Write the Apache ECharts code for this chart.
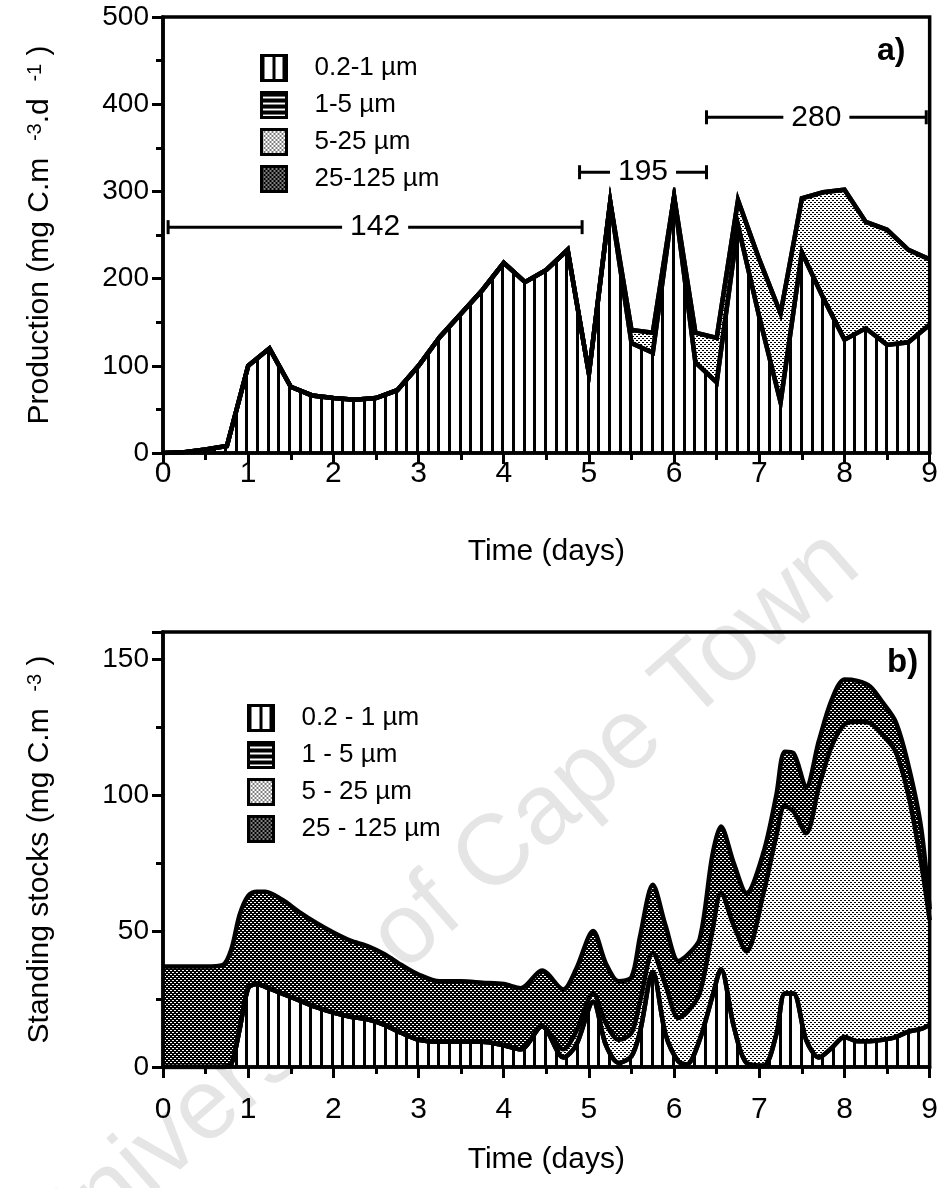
<!DOCTYPE html>
<html>
<head>
<meta charset="utf-8">
<title>Production and standing stocks by size class</title>
<script src="https://cdn.jsdelivr.net/npm/echarts@6.0.0/dist/echarts.min.js"></script>
<style>
  html, body { margin: 0; padding: 0; background: #fff; }
  #chart { width: 941px; height: 1188px; }
</style>
</head>
<body>
<div id="chart"></div>
<script>
const FONT = '"Liberation Sans", Arial, Helvetica, sans-serif';

// ---- a) production (mg C m-3 d-1), one value every 6 h ----
const daysA = [0, 0.25, 0.5, 0.75, 1, 1.25, 1.5, 1.75, 2, 2.25, 2.5, 2.75, 3, 3.25, 3.5, 3.75,
  4, 4.25, 4.5, 4.75, 5, 5.25, 5.5, 5.75, 6, 6.25, 6.5, 6.75, 7, 7.25, 7.5, 7.75, 8, 8.25, 8.5, 8.75, 9];
const picoA = [0, 1, 4, 8, 100, 120, 76, 66, 63, 61, 63, 72, 100, 133, 160, 187,
  218, 196, 210, 233, 91, 288, 126, 115, 294, 104, 81, 261, 156, 58, 230, 178, 130, 143, 124, 127, 147];
const nanoA = [0, 0, 0, 0, 0, 0, 0, 0, 0, 0, 0, 0, 0, 0, 0, 0,
  0, 0, 0, 0, 0, 0, 0, 0, 0, 0, 0, 0, 0, 0, 0, 0, 0, 0, 0, 0, 0];
const microA = [0, 0, 0, 0, 0, 0, 0, 0, 0, 0, 0, 0, 0, 0, 0, 0,
  0, 0, 0, 0, 0, 0, 15, 23, 0, 34, 51, 29, 66, 102, 62, 121, 172, 122, 132, 106, 75];
const netA = [0, 0, 0, 0, 0, 0, 0, 0, 0, 0, 0, 0, 0, 0, 0, 0,
  0, 0, 0, 0, 0, 0, 0, 0, 0, 0, 0, 0, 0, 0, 0, 0, 0, 0, 0, 0, 0];
const namesA = ['0.2-1 µm', '1-5 µm', '5-25 µm', '25-125 µm'];

// mean production over the three periods (bars drawn over panel a)
const rangeStart = [0.06, 4.89, 6.38];
const rangeEnd = [4.92, 6.38, 8.96];
const rangeLevel = [259, 322, 385];
const rangeLabel = ['142', '195', '280'];

// ---- b) standing stocks (mg C m-3) ----
const daysB = [0, 0.5, 0.7, 0.8, 0.9, 1, 1.1, 1.2, 1.4, 1.6, 1.8, 2, 2.2, 2.4, 2.6, 2.8,
  3, 3.25, 3.5, 3.75, 4, 4.2, 4.45, 4.7, 4.85, 5.05, 5.2, 5.35, 5.5, 5.6, 5.75, 5.9,
  6.05, 6.15, 6.3, 6.45, 6.55, 6.7, 6.85, 7.05, 7.2, 7.3, 7.4, 7.55, 7.7, 7.85,
  8, 8.15, 8.3, 8.45, 8.6, 8.75, 8.9, 9];
const picoB = [0, 0, 0, 1, 14, 29, 30.5, 29.5, 27, 24.5, 22, 20, 18.5, 17.5, 15.5, 12.5,
  10, 9.3, 9.3, 9.3, 8, 6.5, 15, 3.5, 8, 24, 8, 1.5, 4, 13, 35, 12,
  2, 1, 10, 26, 36, 15, 1.5, 0.5, 12, 27, 27, 10, 3.5, 7,
  11, 9.5, 9.5, 10, 11, 13, 14, 15.5];
const nanoB = [0, 0, 0, 0, 0, 0, 0, 0, 0, 0, 0, 0, 0, 0, 0, 0,
  0, 0, 0, 0, 0, 0, 0, 0, 0, 0, 0, 0, 0, 0, 0, 0,
  0, 0, 0, 0, 0, 0, 0, 0, 0, 0, 0, 0, 0, 0,
  0, 0, 0, 0, 0, 0, 0, 0];
const microB = [0, 0, 0, 0, 0, 0, 0, 0, 0, 0, 0, 0, 0, 0, 0, 0,
  0, 0, 0, 0, 0, 0, 0, 3, 5, 3, 8, 8.5, 8.5, 11, 7, 18,
  16, 19, 17, 24, 28, 37, 41, 63.5, 73, 69, 67, 76, 99.5, 111,
  115, 117.5, 117, 112, 105, 87, 61, 38.5];
const netB = [37, 37, 37.5, 42, 42, 34, 34, 35, 34.5, 32.5, 31, 29.5, 28, 27, 26, 25,
  24, 22.2, 22.2, 21.7, 22.5, 22.5, 20.5, 22, 23, 23, 22, 21.5, 20.5, 24, 25, 22,
  21, 21, 20, 28, 24.5, 23, 21.5, 15, 15, 20, 21.5, 17, 17, 17,
  16.5, 15, 13.5, 12, 11, 11, 13, 4];
const namesB = ['0.2 - 1 µm', '1 - 5 µm', '5 - 25 µm', '25 - 125 µm'];

// ---- fill patterns (scanned-print look) ----
function makePattern(w, h, draw) {
  const c = document.createElement('canvas');
  c.width = w;
  c.height = h;
  draw(c.getContext('2d'));
  return { image: c, repeat: 'repeat' };
}
const vertHatch = makePattern(32, 4, (ctx) => {
  ctx.fillStyle = '#fff'; ctx.fillRect(0, 0, 32, 4);
  ctx.fillStyle = '#000';
  [0, 11, 21].forEach((x) => ctx.fillRect(x, 0, 3, 4));
});
const horizHatch = makePattern(4, 6, (ctx) => {
  ctx.fillStyle = '#000'; ctx.fillRect(0, 0, 4, 6);
  ctx.fillStyle = '#fff'; ctx.fillRect(0, 4, 4, 2);
});
const lightDots = makePattern(4, 4, (ctx) => {
  ctx.fillStyle = '#fff'; ctx.fillRect(0, 0, 4, 4);
  ctx.fillStyle = '#000'; ctx.fillRect(0, 0, 2, 1); ctx.fillRect(2, 2, 2, 1);
});
const darkDots = makePattern(4, 4, (ctx) => {
  ctx.fillStyle = '#000'; ctx.fillRect(0, 0, 4, 4);
  ctx.fillStyle = '#fff'; ctx.fillRect(0, 0, 2, 1); ctx.fillRect(2, 2, 2, 1);
});
const fills = [vertHatch, horizHatch, lightDots, darkDots];

// the areas are drawn as cumulative totals, biggest first, so each smaller class covers the one above
const sumArrays = (...arrs) => arrs[0].map((_, i) => arrs.reduce((s, a) => s + a[i], 0));

function layerSeries(names, axisIndex, days, parts, smooth) {
  const tops = [
    sumArrays(parts[0], parts[1], parts[2], parts[3]),
    sumArrays(parts[0], parts[1], parts[2]),
    sumArrays(parts[0], parts[1]),
    parts[0]
  ];
  return [3, 2, 1, 0].map((k, j) => ({
    name: names[k],
    type: 'line',
    xAxisIndex: axisIndex,
    yAxisIndex: axisIndex,
    data: days.map((d, i) => [d, tops[j][i]]),
    symbol: 'none',
    smooth: smooth,
    silent: true,
    lineStyle: { color: '#000', width: 4.5, join: 'miter' },
    areaStyle: { color: fills[k], opacity: 1 },
    z: 2
  }));
}

function xAxisFor(gridIndex, labelMargin, nameGap) {
  return {
    type: 'value', gridIndex: gridIndex, min: 0, max: 9, interval: 1, z: 11,
    name: 'Time (days)', nameLocation: 'middle', nameGap: nameGap,
    nameTextStyle: { fontSize: 30, fontFamily: FONT, color: '#000' },
    axisLine: { onZero: false, lineStyle: { color: '#000', width: 3.5 } },
    axisTick: { length: 11, lineStyle: { color: '#000', width: 3 } },
    minorTick: { show: true, splitNumber: 2, length: 7, lineStyle: { color: '#000', width: 3 } },
    axisLabel: { fontSize: 30, fontFamily: FONT, color: '#000', margin: labelMargin },
    splitLine: { show: false }
  };
}

function yAxisFor(gridIndex, max, interval, name) {
  return {
    type: 'value', gridIndex: gridIndex, min: 0, max: max, interval: interval, z: 11,
    name: name, nameLocation: 'middle', nameGap: 108,
    nameTextStyle: {
      rich: {
        n: { fontSize: 30, fontFamily: FONT, color: '#000', lineHeight: 30 },
        s: { fontSize: 20, fontFamily: FONT, color: '#000', lineHeight: 20, verticalAlign: 'top' }
      }
    },
    axisLine: { lineStyle: { color: '#000', width: 3.5 } },
    axisTick: { length: 11, lineStyle: { color: '#000', width: 3 } },
    minorTick: { show: true, splitNumber: 2, length: 7, lineStyle: { color: '#000', width: 3 } },
    axisLabel: {
      fontSize: 28, fontFamily: FONT, color: '#000', margin: 14,
      formatter: (v) => (v % interval === 0 ? String(v) : '')
    },
    splitLine: { show: false }
  };
}

function legendFor(names, left, top) {
  return {
    orient: 'vertical', left: left, top: top, padding: 0,
    itemWidth: 25, itemHeight: 25, itemGap: 9, selectedMode: false,
    data: names.map((n, i) => ({
      name: n, icon: 'rect',
      itemStyle: { color: fills[i], borderColor: '#000', borderWidth: 3 }
    })),
    textStyle: { fontSize: 26, fontFamily: FONT, color: '#000', padding: [0, 0, 0, 23] }
  };
}

const chart = echarts.init(document.getElementById('chart'));

const option = {
  animation: false,
  backgroundColor: '#fff',
  textStyle: { fontFamily: FONT, color: '#000' },
  title: [
    { text: 'a)', left: 877, top: 35, padding: 0, textStyle: { fontSize: 32, fontWeight: 'bold', fontFamily: FONT, color: '#000' } },
    { text: 'b)', left: 887, top: 646, padding: 0, textStyle: { fontSize: 33, fontWeight: 'bold', fontFamily: FONT, color: '#000' } }
  ],
  grid: [
    { left: 163, top: 17, width: 768, height: 436, show: true, z: 10, backgroundColor: 'transparent', borderColor: '#000', borderWidth: 3.5 },
    { left: 163, top: 632, width: 768, height: 435, show: true, z: 10, backgroundColor: 'transparent', borderColor: '#000', borderWidth: 3.5 }
  ],
  xAxis: [xAxisFor(0, 6, 84), xAxisFor(1, 28, 78)],
  yAxis: [
    yAxisFor(0, 500, 100, '{n|Production (mg C.m  }{s|-3}{n|.d  }{s|-1}{n| )}'),
    yAxisFor(1, 160, 50, '{n|Standing stocks (mg C.m  }{s|-3}{n| )}')
  ],
  legend: [legendFor(namesA, 260, 54), legendFor(namesB, 247, 704)],
  graphic: [
    {
      // scan watermark behind panel b
      type: 'text', x: 440, y: 905, rotation: 0.72, z: -10, silent: true,
      style: {
        text: 'University of Cape Town', font: '100px ' + FONT,
        fill: 'rgba(0,0,0,0.1)', align: 'center', verticalAlign: 'middle'
      }
    }
  ],
  series: [
    ...layerSeries(namesA, 0, daysA, [picoA, nanoA, microA, netA], false),
    ...layerSeries(namesB, 1, daysB, [picoB, nanoB, microB, netB], 0.3),
    {
      type: 'custom',
      xAxisIndex: 0,
      yAxisIndex: 0,
      z: 5,
      silent: true,
      data: rangeStart.map((s, i) => [s, rangeEnd[i], rangeLevel[i]]),
      encode: { x: [0, 1], y: 2 },
      renderItem: (params, api) => {
        const a = api.coord([api.value(0), api.value(2)]);
        const b = api.coord([api.value(1), api.value(2)]);
        const stroke = { stroke: '#000', lineWidth: 3 };
        return {
          type: 'group',
          children: [
            { type: 'line', shape: { x1: a[0], y1: a[1], x2: b[0], y2: b[1] }, style: stroke },
            { type: 'line', shape: { x1: a[0], y1: a[1] - 7, x2: a[0], y2: a[1] + 7 }, style: stroke },
            { type: 'line', shape: { x1: b[0], y1: b[1] - 7, x2: b[0], y2: b[1] + 7 }, style: stroke },
            {
              type: 'text', x: (a[0] + b[0]) / 2, y: a[1],
              style: {
                text: rangeLabel[params.dataIndex], font: '30px ' + FONT, fill: '#000',
                align: 'center', verticalAlign: 'middle', backgroundColor: '#fff', padding: [0, 8]
              }
            }
          ]
        };
      }
    }
  ]
};

chart.setOption(option);
</script>
</body>
</html>
